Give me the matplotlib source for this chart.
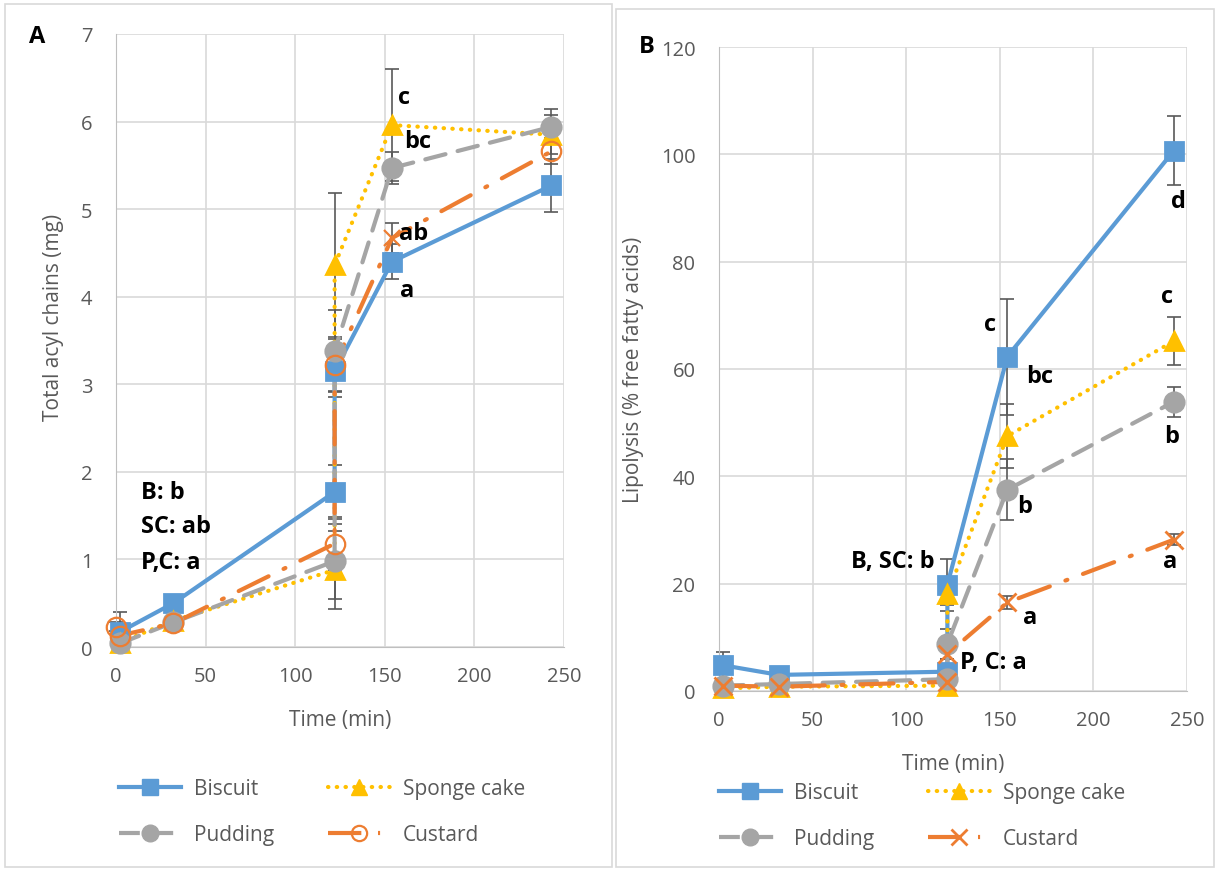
import matplotlib
matplotlib.use('Agg')
import matplotlib.pyplot as plt
from matplotlib.patches import Rectangle
from matplotlib.lines import Line2D

plt.rcParams['font.family'] = ['Open Sans', 'DejaVu Sans']

# sampling times (min)
times = [2, 32, 122, 122, 154, 243]
times_cust_a = [0, 2, 32, 122, 122, 154, 243]

# panel A: total acyl chains (mg)
bisc_a = [0.17, 0.50, 1.77, 3.15, 4.40, 5.27]
bisc_a_err = [0.23, 0.05, 0.31, 0.30, 0.20, 0.30]
sponge_a = [0.05, 0.30, 0.88, 4.36, 5.96, 5.85]
sponge_a_err = [0.05, 0.05, 0.45, 0.82, 0.64, 0.22]
pudd_a = [0.04, 0.28, 0.98, 3.38, 5.47, 5.94]
pudd_a_err = [0.05, 0.05, 0.43, 0.47, 0.18, 0.20]
cust_a = [0.23, 0.13, 0.27, 1.18, 3.22, 4.67, 5.66]
cust_a_err = [0.05, 0.05, 0.05, 0.30, 0.30, 0.17, 0.15]
cust_a_marks = ['o', 'o', 'o', 'o', 'o', 'x', 'o']

# panel B: lipolysis (% free fatty acids)
bisc_b = [4.8, 3.0, 3.6, 19.8, 62.3, 100.7]
bisc_b_err = [2.5, 0.5, 0.5, 4.8, 10.8, 6.4]
sponge_b = [0.5, 0.8, 1.0, 18.0, 47.5, 65.2]
sponge_b_err = [0.3, 0.3, 0.3, 2.0, 5.9, 4.5]
pudd_b = [1.0, 1.3, 2.2, 8.8, 37.5, 53.9]
pudd_b_err = [0.5, 0.5, 0.5, 2.8, 5.7, 2.8]
cust_b = [1.0, 0.8, 1.7, 6.9, 16.5, 28.2]
cust_b_err = [0.5, 0.3, 0.5, 1.0, 1.2, 1.0]

# letters (x, y, text, ha)
notes_a = [(161, 6.28, 'c', 'center'), (168.5, 5.78, 'bc', 'center'),
           (166, 4.73, 'ab', 'center'), (162.5, 4.08, 'a', 'center'),
           (14, 1.77, 'B: b', 'left'), (14, 1.38, 'SC: ab', 'left'),
           (14, 0.97, 'P,C: a', 'left')]
notes_b = [(145, 68.4, 'c', 'center'), (171.5, 58.7, 'bc', 'center'),
           (163.5, 34.5, 'b', 'center'), (245.5, 91.3, 'd', 'center'),
           (239.5, 73.6, 'c', 'center'), (242, 47.5, 'b', 'center'),
           (241, 24.2, 'a', 'center'), (166, 13.8, 'a', 'center'),
           (115, 24.2, 'B, SC: b', 'right'), (129, 5.4, 'P, C: a', 'left')]

BLUE = '#5B9BD5'
GOLD = '#FFC000'
GREY = '#A5A5A5'
ORANGE = '#ED7D31'
ERR = '#595959'
TXT = '#595959'

fig = plt.figure(figsize=(12.19, 8.70), dpi=100)
fig.patches.append(Rectangle((5 / 1219, 2 / 870), 607 / 1219, 863 / 870,
                             transform=fig.transFigure, fill=False, ec='#D9D9D9', lw=1.2))
fig.patches.append(Rectangle((616 / 1219, 2 / 870), 598 / 1219, 858 / 870,
                             transform=fig.transFigure, fill=False, ec='#D9D9D9', lw=1.2))

axA = fig.add_axes([116 / 1219, 1 - 648 / 870, 448 / 1219, 613 / 870])
axB = fig.add_axes([719 / 1219, 1 - 692 / 870, 468 / 1219, 644 / 870])

lw = 3.0
dot_sponge = (0, (0.1, 2.0))
dash_pudd = (0, (5, 3))
dash_cust = (0, (8, 4, 0.5, 4))


def draw(ax, t, y, e, color, ls, marker, ms, mfc='auto'):
    ax.errorbar(t, y, yerr=e, fmt='none', ecolor=ERR, elinewidth=1.2,
                capsize=5, capthick=1.2, zorder=2)
    ax.plot(t, y, color=color, ls=ls, lw=lw, zorder=3,
            dash_capstyle='round', solid_capstyle='round')
    if isinstance(marker, list):
        for xi, yi, m in zip(t, y, marker):
            face = 'none' if m == 'o' else color
            ax.plot(xi, yi, marker=m, ms=ms + (2 if m == 'o' else 0), mfc=face,
                    mec=color, mew=1.6, ls='none', zorder=4)
    else:
        ax.plot(t, y, marker=marker, ms=ms, color=color,
                mfc=color if mfc == 'auto' else mfc, mec=color, mew=2,
                ls='none', zorder=4)


draw(axA, times, bisc_a, bisc_a_err, BLUE, '-', 's', 13)
draw(axA, times, sponge_a, sponge_a_err, GOLD, dot_sponge, '^', 13)
draw(axA, times, pudd_a, pudd_a_err, GREY, dash_pudd, 'o', 14)
draw(axA, times_cust_a, cust_a, cust_a_err, ORANGE, dash_cust, cust_a_marks, 12)

draw(axB, times, bisc_b, bisc_b_err, BLUE, '-', 's', 13)
draw(axB, times, sponge_b, sponge_b_err, GOLD, dot_sponge, '^', 13)
draw(axB, times, pudd_b, pudd_b_err, GREY, dash_pudd, 'o', 14)
draw(axB, times, cust_b, cust_b_err, ORANGE, dash_cust, 'x', 13)

for ax, ymax, ystep, lab in [(axA, 7, 1, 'Total acyl chains (mg)'),
                             (axB, 120, 20, 'Lipolysis (% free fatty acids)')]:
    ax.set_xlim(0, 250)
    ax.set_ylim(0, ymax)
    ax.set_xticks(range(0, 251, 50))
    ax.set_yticks(range(0, ymax + 1, ystep))
    ax.grid(True, color='#D9D9D9', lw=1.2)
    ax.set_axisbelow(True)
    for s in ['top', 'right']:
        ax.spines[s].set_visible(False)
    ax.spines['left'].set_color('#BFBFBF')
    ax.spines['bottom'].set_color('#BFBFBF')
    ax.tick_params(axis='y', length=0, labelsize=14.5, labelcolor=TXT, pad=17)
    ax.tick_params(axis='x', length=0, labelsize=14.5, labelcolor=TXT, pad=14)
    ax.set_xlabel('Time (min)', fontsize=15, color=TXT, labelpad=16)
    ax.set_ylabel(lab, fontsize=15, color=TXT, labelpad=12)
    for child in ax.get_children():
        if isinstance(child, Line2D):
            child.set_clip_on(False)

axA.yaxis.label.set_y(0.54)

for x, y, s, ha in notes_a:
    axA.text(x, y, s, ha=ha, va='center', fontsize=17, fontweight='bold', color='black', zorder=6)
for x, y, s, ha in notes_b:
    axB.text(x, y, s, ha=ha, va='center', fontsize=17, fontweight='bold', color='black', zorder=6)

fig.text(37 / 1219, 1 - 37 / 870, 'A', fontsize=17, fontweight='bold', ha='center', va='center')
fig.text(647 / 1219, 1 - 47 / 870, 'B', fontsize=17, fontweight='bold', ha='center', va='center')

# legends
leg_a = [Line2D([], [], color=BLUE, lw=lw, marker='s', ms=11),
         Line2D([], [], color=GREY, lw=lw, ls=dash_pudd, marker='o', ms=12),
         Line2D([], [], color=GOLD, lw=lw, ls=dot_sponge, marker='^', ms=11,
                dash_capstyle='round'),
         Line2D([], [], color=ORANGE, lw=lw, ls=dash_cust, marker='o', ms=11,
                mfc='none', mew=1.6)]
leg_b = leg_a[:3] + [Line2D([], [], color=ORANGE, lw=lw, ls=dash_cust, marker='x',
                            ms=11, mew=2)]
names = ['Biscuit', 'Pudding', 'Sponge cake', 'Custard']
for handles, cx, cy in [(leg_a, 322, 813), (leg_b, 922, 817)]:
    lg = fig.legend(handles, names, ncol=2, loc='center',
                    bbox_to_anchor=(cx / 1219, 1 - cy / 870), frameon=False,
                    fontsize=15, handlelength=3.0, columnspacing=2.6,
                    labelspacing=1.2, handletextpad=0.6)
    for t in lg.get_texts():
        t.set_color(TXT)

fig.savefig('out.png', dpi=100)
